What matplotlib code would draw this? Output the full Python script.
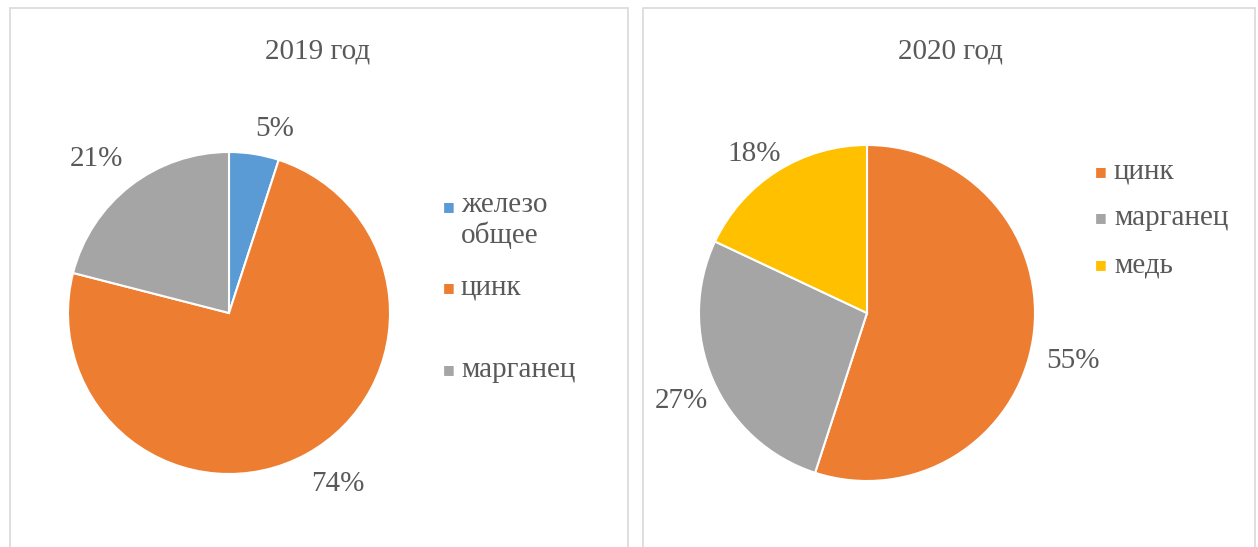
import numpy as np
import matplotlib.pyplot as plt
from matplotlib.patches import Rectangle

plt.rcParams['font.family'] = ['Liberation Serif', 'DejaVu Serif']

# 2019
labels_2019 = ['железо\nобщее', 'цинк', 'марганец']
values_2019 = [5, 74, 21]
colors_2019 = ['#5B9BD5', '#ED7D31', '#A5A5A5']

# 2020
labels_2020 = ['цинк', 'марганец', 'медь']
values_2020 = [55, 27, 18]
colors_2020 = ['#ED7D31', '#A5A5A5', '#FFC000']

W, H = 1258, 547
txt = '#595959'
fs = 21
fig = plt.figure(figsize=(W / 100, H / 100), dpi=100)

# frames around each chart
for x0, x1 in [(10, 628), (643, 1255)]:
    fig.patches.append(Rectangle((x0 / W, -0.05), (x1 - x0) / W, 1 - 8 / H + 0.05,
                                 transform=fig.transFigure, fill=False,
                                 edgecolor='#d9d9d9', linewidth=1.2))


def pie_panel(cx, cy, r, values, colors, dist, shift):
    lim = 1.5
    side = 2 * lim * r
    ax = fig.add_axes([(cx - lim * r) / W, (H - cy - lim * r) / H, side / W, side / H])
    wedges, _ = ax.pie(values, colors=colors, startangle=90, counterclock=False,
                       wedgeprops=dict(edgecolor='white', linewidth=1.5))
    for w, v, d, s in zip(wedges, values, dist, shift):
        ang = np.deg2rad((w.theta1 + w.theta2) / 2 + s)
        ax.text(d * np.cos(ang), d * np.sin(ang), f'{v}%', ha='center', va='center',
                fontsize=fs, color=txt)
    ax.set_xlim(-lim, lim)
    ax.set_ylim(-lim, lim)
    ax.set_aspect('equal')
    ax.axis('off')
    return ax


pie_panel(229, 313, 161, values_2019, colors_2019, [1.18, 1.26, 1.26], [-5, 3.5, 3])
pie_panel(867, 313, 168, values_2020, colors_2020, [1.26, 1.22, 1.16], [-4, 2, 3])

fig.text(318 / W, 1 - 52 / H, '2019 год', ha='center', va='center', fontsize=fs, color=txt)
fig.text(950 / W, 1 - 52 / H, '2020 год', ha='center', va='center', fontsize=fs, color=txt)


def legend(x_mark, x_text, ys, labels, colors):
    for y, lab, c in zip(ys, labels, colors):
        fig.text(x_mark / W, 1 - y / H, '■', ha='center', va='center', fontsize=9,
                 color=c, family='DejaVu Sans')
        if '\n' in lab:
            # two-line entry: first line sits level with the marker
            fig.text(x_text / W, 1 - (y - 15) / H, lab, ha='left', va='top',
                     fontsize=fs, color=txt, linespacing=1.15)
        else:
            fig.text(x_text / W, 1 - y / H, lab, ha='left', va='center', fontsize=fs, color=txt)


legend(449, 461, [207, 288, 370], labels_2019, colors_2019)
legend(1101, 1114, [172, 218, 265], labels_2020, colors_2020)

fig.savefig('out.png', dpi=100, facecolor='white')
